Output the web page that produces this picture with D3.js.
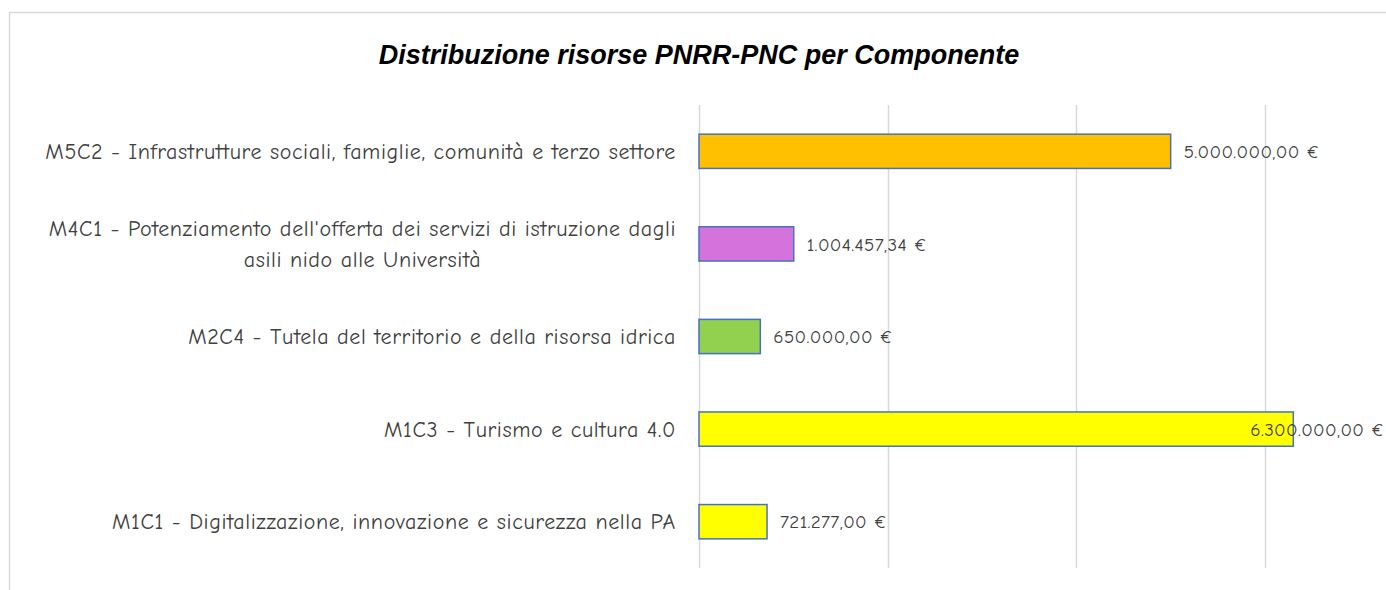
<!DOCTYPE html>
<html>
<head>
<meta charset="utf-8">
<script src="https://cdn.jsdelivr.net/npm/d3@7"></script>
<style>
  html, body { margin: 0; padding: 0; background: #fff; overflow: hidden; }
  svg { display: block; }
</style>
</head>
<body>
<svg id="chart" width="1386" height="590"></svg>
<script>
// Components, top to bottom
const categories = [
  "M5C2 - Infrastrutture sociali, famiglie, comunità e terzo settore",
  "M4C1 - Potenziamento dell'offerta dei servizi di istruzione dagli asili nido alle Università",
  "M2C4 - Tutela del territorio e della risorsa idrica",
  "M1C3 - Turismo e cultura 4.0",
  "M1C1 - Digitalizzazione, innovazione e sicurezza nella PA"
];
const categoryLines = [
  ["M5C2 - Infrastrutture sociali, famiglie, comunità e terzo settore"],
  ["M4C1 - Potenziamento dell'offerta dei servizi di istruzione dagli", "asili nido alle Università"],
  ["M2C4 - Tutela del territorio e della risorsa idrica"],
  ["M1C3 - Turismo e cultura 4.0"],
  ["M1C1 - Digitalizzazione, innovazione e sicurezza nella PA"]
];
const values = [5000000.00, 1004457.34, 650000.00, 6300000.00, 721277.00];
const barColors = ["#FFC000", "#D672DC", "#92D050", "#FFFF00", "#FFFF00"];
const gridTicks = [0, 2000000, 4000000, 6000000];
const title = "Distribuzione risorse PNRR-PNC per Componente";

const svg = d3.select("#chart");
const W = 1386;
const labelFont = "'Comic Sans MS', 'Comic Neue', 'DejaVu Sans', sans-serif";

// outer chart frame
svg.append("rect")
  .attr("x", 9.5).attr("y", 12.5)
  .attr("width", 1420).attr("height", 640)
  .attr("fill", "#fff")
  .attr("stroke", "#d9d9d9").attr("stroke-width", 1.5);

const plot = { left: 699, right: 1265, top: 105, bottom: 568 };

const x = d3.scaleLinear()
  .domain([0, 6000000])
  .range([plot.left, plot.right]);

const y = d3.scaleBand()
  .domain(categories)
  .range([plot.top, plot.bottom])
  .paddingInner(0.63)
  .paddingOuter(0.315);

// vertical gridlines
svg.append("g")
  .selectAll("line")
  .data(gridTicks)
  .join("line")
  .attr("x1", d => Math.round(x(d)) + 0.5)
  .attr("x2", d => Math.round(x(d)) + 0.5)
  .attr("y1", plot.top)
  .attr("y2", plot.bottom)
  .attr("stroke", "#d9d9d9")
  .attr("stroke-width", 1.5);

// bars
svg.append("g")
  .selectAll("rect")
  .data(values)
  .join("rect")
  .attr("x", x(0))
  .attr("y", (d, i) => y(categories[i]))
  .attr("width", d => x(d) - x(0))
  .attr("height", y.bandwidth())
  .attr("fill", (d, i) => barColors[i])
  .attr("stroke", "#4472C4")
  .attr("stroke-width", 1.5);

// value labels (pulled back inside the chart when they would overflow the right edge)
const fmt = v => {
  const parts = v.toFixed(2).split(".");
  return parts[0].replace(/\B(?=(\d{3})+(?!\d))/g, ".") + "," + parts[1] + " €";
};
svg.append("g")
  .selectAll("text")
  .data(values)
  .join("text")
  .attr("y", (d, i) => y(categories[i]) + y.bandwidth() / 2)
  .attr("dy", "0.35em")
  .attr("font-family", labelFont)
  .attr("font-size", 19)
  .attr("letter-spacing", 0.35)
  .attr("fill", "#404040")
  .text(d => fmt(d))
  .attr("x", function(d) {
    const w = this.getComputedTextLength();
    return Math.min(x(d) + 13, W - w - 2);
  });

// category labels
const catG = svg.append("g");
categories.forEach((c, i) => {
  const lines = categoryLines[i];
  const cy = y(c) + y.bandwidth() / 2;
  const lh = 31;
  const t = catG.append("text")
    .attr("text-anchor", "middle")
    .attr("font-family", labelFont)
    .attr("font-size", 22)
    .attr("letter-spacing", 0.6)
    .attr("fill", "#404040");
  lines.forEach((ln, j) => {
    t.append("tspan")
      .attr("x", 0)
      .attr("y", cy + (j - (lines.length - 1) / 2) * lh)
      .attr("dy", "0.35em")
      .text(ln);
  });
  // right-align the block at the axis while centering the lines within it
  const bw = t.node().getBBox().width;
  t.attr("transform", `translate(${676 - bw / 2},0)`);
});

// title
svg.append("text")
  .attr("x", 699)
  .attr("y", 64)
  .attr("text-anchor", "middle")
  .attr("font-family", "'Liberation Sans', Arial, sans-serif")
  .attr("font-size", 27)
  .attr("font-weight", "bold")
  .attr("font-style", "italic")
  .attr("fill", "#000")
  .text(title);
</script>
</body>
</html>
